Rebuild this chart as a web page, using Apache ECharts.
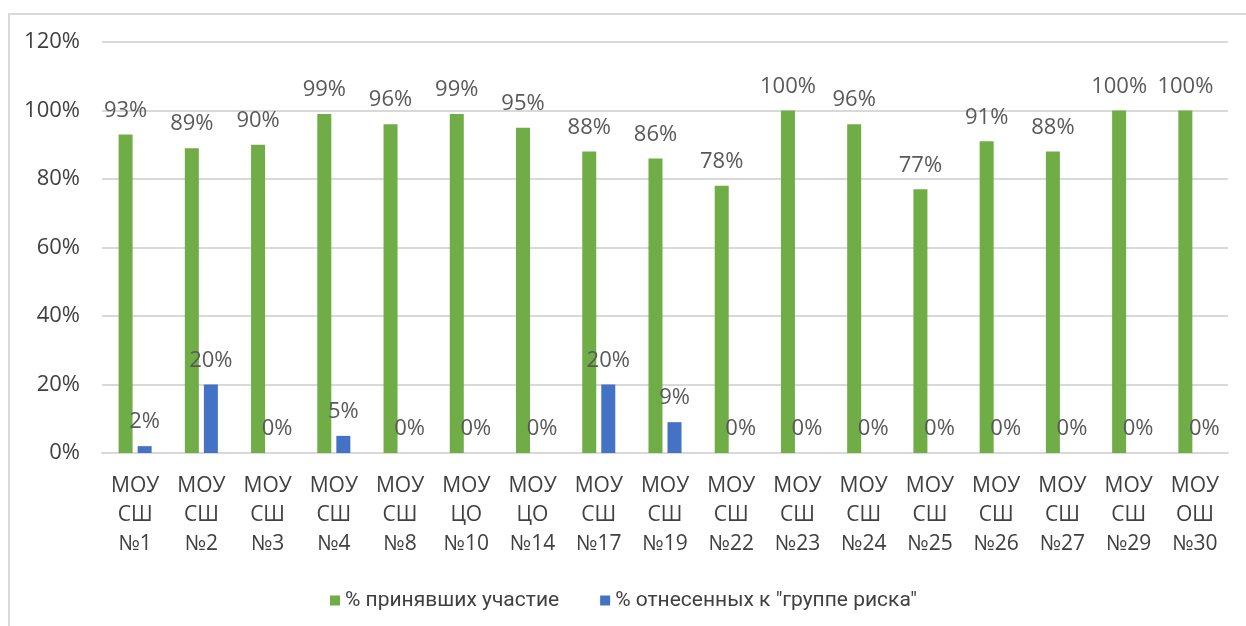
<!DOCTYPE html>
<html>
<head>
    <meta charset="utf-8">
    <title>Участие</title>
    <script src="https://cdn.jsdelivr.net/npm/echarts@6/dist/echarts.min.js"></script>
    <style>
        body { margin: 0; background: #fff; overflow: hidden; }
        #frame { position: absolute; left: 8px; top: 13px; width: 1260px; height: 700px;
                 border: 2px solid #d9d9d9; pointer-events: none; }
    </style>
</head>
<body>
<div id="chart" style="width: 1246px; height: 626px;"></div>
<div id="frame"></div>
<script>
    // категории (школы)
    var schools = ['МОУ\nСШ\n№1', 'МОУ\nСШ\n№2', 'МОУ\nСШ\n№3', 'МОУ\nСШ\n№4', 'МОУ\nСШ\n№8',
        'МОУ\nЦО\n№10', 'МОУ\nЦО\n№14', 'МОУ\nСШ\n№17', 'МОУ\nСШ\n№19', 'МОУ\nСШ\n№22',
        'МОУ\nСШ\n№23', 'МОУ\nСШ\n№24', 'МОУ\nСШ\n№25', 'МОУ\nСШ\n№26', 'МОУ\nСШ\n№27',
        'МОУ\nСШ\n№29', 'МОУ\nОШ\n№30'];
    var participated = [93, 89, 90, 99, 96, 99, 95, 88, 86, 78, 100, 96, 77, 91, 88, 100, 100];
    var riskGroup = [2, 20, 0, 5, 0, 0, 0, 20, 9, 0, 0, 0, 0, 0, 0, 0, 0];
    var seriesNames = ['% принявших участие', '% отнесенных к "группе риска"'];
    var yTicks = [0, 20, 40, 60, 80, 100, 120];

    var myChart = echarts.init(document.getElementById('chart'));
    var font = '"Open Sans", "Noto Sans", sans-serif';

    var barLabel = {
        show: true,
        position: 'top',
        distance: 13,
        formatter: '{c}%',
        color: '#595959',
        fontSize: 22,
        fontFamily: font
    };

    var option = {
        backgroundColor: '#fff',
        animation: false,
        grid: { left: 102, right: 18, top: 42, bottom: 173 },
        legend: {
            top: 585,
            left: 325,
            itemWidth: 10,
            itemHeight: 10,
            itemGap: 41,
            icon: 'rect',
            textStyle: { fontSize: 21, color: '#404040', fontFamily: 'Roboto, sans-serif' },
            data: seriesNames
        },
        xAxis: {
            type: 'category',
            data: schools,
            axisTick: { show: false },
            axisLine: { lineStyle: { color: '#d9d9d9', width: 2 } },
            axisLabel: {
                interval: 0,
                margin: 19,
                fontSize: 21,
                lineHeight: 29,
                color: '#404040',
                fontFamily: font
            }
        },
        yAxis: {
            type: 'value',
            min: yTicks[0],
            max: yTicks[yTicks.length - 1],
            interval: 20,
            axisLine: { show: false },
            axisTick: { show: false },
            axisLabel: { formatter: '{value}%', margin: 22, fontSize: 22, color: '#404040', fontFamily: font },
            splitLine: { lineStyle: { color: '#d9d9d9', width: 2 } }
        },
        series: [{
            name: seriesNames[0],
            type: 'bar',
            data: participated,
            barWidth: 14,
            barGap: '36%',
            itemStyle: { color: '#70ad47' },
            label: barLabel
        }, {
            name: seriesNames[1],
            type: 'bar',
            data: riskGroup,
            barWidth: 14,
            itemStyle: { color: '#4472c4' },
            label: barLabel
        }]
    };

    myChart.setOption(option);
</script>
</body>
</html>
